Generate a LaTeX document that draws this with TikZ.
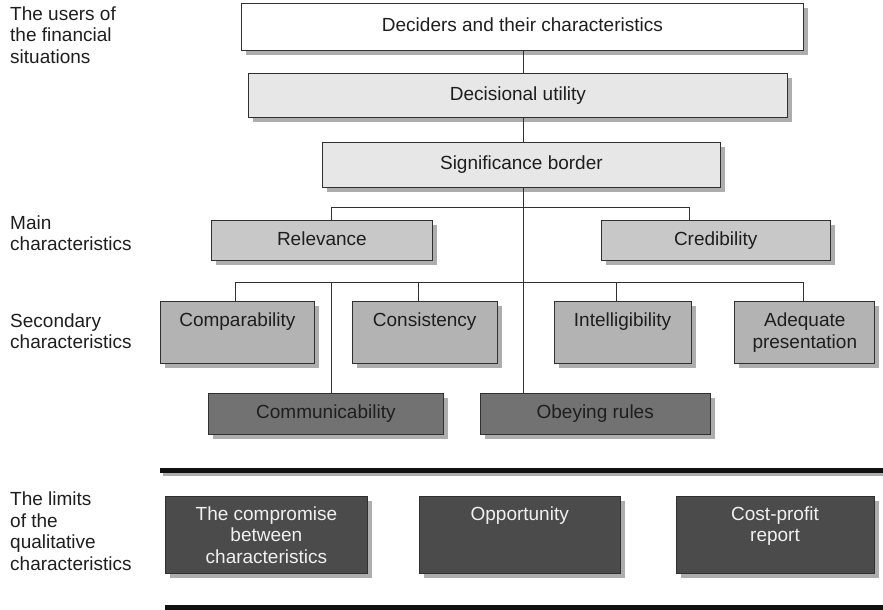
\documentclass[tikz,border=0pt]{standalone}
\usepackage{fontspec}
\setmainfont{Liberation Sans}
\usepackage{xcolor}
\definecolor{frameDark}{HTML}{303030}
\definecolor{inkDark}{HTML}{1E1E1E}
\definecolor{shadowGray}{HTML}{ADADAD}
\definecolor{paleFill}{HTML}{E7E7E7}
\definecolor{mainFill}{HTML}{C8C8C8}
\definecolor{secondFill}{HTML}{B3B3B3}
\definecolor{rulesFill}{HTML}{727272}
\definecolor{limitFill}{HTML}{4B4B4B}
\definecolor{limitText}{HTML}{F0F0F0}
\definecolor{barDark}{HTML}{111111}
\usepackage{tikz}
\usetikzlibrary{positioning,shadows}
\tikzset{%
  levelBox/.style={%
    rectangle,
    draw=frameDark,
    line width=0.8pt,
    text=inkDark,
    inner sep=0pt,
    align=center,
    text depth=4pt,
    font=\fontsize{19}{21.5}\selectfont,
    drop shadow={shadow xshift=4.5pt, shadow yshift=-4.5pt, fill=shadowGray, opacity=1}
  },
  limitBox/.style={%
    levelBox,
    fill=limitFill,
    text=limitText,
    text depth=0pt,
    minimum height=77pt
  },
  sideLabel/.style={%
    anchor=north west,
    inner sep=0pt,
    align=left,
    text=inkDark,
    font=\fontsize{19}{21.5}\selectfont
  },
  treeLine/.style={%
    draw=frameDark,
    line width=0.8pt
  },
  limitBar/.style={%
    draw=barDark,
    line width=5pt
  },
  barShadow/.style={%
    draw=shadowGray,
    line width=5pt
  }
}

\begin{document}
\begin{tikzpicture}[x=1pt, y=-1pt]
  \useasboundingbox (0,0) rectangle (883,610);

  % side labels
  \node[sideLabel] (usersLbl) at (10,6.5) {The users of\\the financial\\situations};
  \node[sideLabel] (mainLbl) at (10,215.5) {Main\\characteristics};
  \node[sideLabel] (secondLbl) at (10,313.5) {Secondary\\characteristics};
  \node[sideLabel] (limitsLbl) at (10,492) {The limits\\of the\\qualitative\\characteristics};

  % top of the tree
  \node[levelBox, fill=white, anchor=north west, minimum width=562pt, minimum height=47pt] (deciders) at (241,3) {Deciders and their characteristics};
  \node[levelBox, fill=paleFill, anchor=north west, minimum width=539pt, minimum height=44pt] (utility) at (248,73) {Decisional utility};
  \node[levelBox, fill=paleFill, anchor=north west, minimum width=398pt, minimum height=45pt] (signif) at (322,142) {Significance border};

  % main characteristics
  \node[levelBox, fill=mainFill, anchor=north west, minimum width=221pt, minimum height=40pt] (relevance) at (211,220) {Relevance};
  \node[levelBox, fill=mainFill, minimum width=229pt, minimum height=40pt, right=168pt of relevance] (credibility) {Credibility};

  % secondary characteristics
  \node[levelBox, fill=secondFill, anchor=north west, minimum width=154pt, minimum height=62pt] (compar) at (160,301) {Comparability\\~};
  \node[levelBox, fill=secondFill, minimum width=145pt, minimum height=62pt, right=37pt of compar] (consist) {Consistency\\~};
  \node[levelBox, fill=secondFill, minimum width=137pt, minimum height=62pt, right=56pt of consist] (intell) {Intelligibility\\~};
  \node[levelBox, fill=secondFill, minimum width=140pt, minimum height=62pt, right=43pt of intell] (adequ) {Adequate\\presentation};

  \node[levelBox, fill=rulesFill, anchor=north west, minimum width=235pt, minimum height=41pt] (commun) at (208,393) {Communicability};
  \node[levelBox, fill=rulesFill, minimum width=230pt, minimum height=41pt, right=36pt of commun] (obey) {Obeying rules};

  % limits
  \node[limitBox, anchor=north west, minimum width=202pt] (compromise) at (165,496) {The compromise\\between\\characteristics};
  \node[limitBox, minimum width=201pt, right=51pt of compromise] (opport) {Opportunity\\~\\~};
  \node[limitBox, minimum width=198pt, right=55pt of opport] (costProfit) {Cost-profit\\report\\~};

  % junctions
  \coordinate (mainJoin) at (523,207);
  \coordinate (relJoin) at (331,207);
  \coordinate (credJoin) at (689,207);
  \coordinate (cmpJoin) at (235,282);
  \coordinate (comJoin) at (331,282);
  \coordinate (conJoin) at (418,282);
  \coordinate (intJoin) at (616,282);
  \coordinate (adqJoin) at (803,282);

  \draw[treeLine] (deciders.south -| mainJoin) -- (utility.north -| mainJoin);
  \draw[treeLine] (utility.south -| mainJoin) -- (signif.north -| mainJoin);
  \draw[treeLine] (signif.south -| mainJoin) -- (obey.north -| mainJoin);
  \draw[treeLine] (relevance.north -| relJoin) -- (relJoin) -- (credJoin) -- (credibility.north -| credJoin);
  \draw[treeLine] (compar.north -| cmpJoin) -- (cmpJoin) -- (adqJoin) -- (adequ.north -| adqJoin);
  \draw[treeLine] (comJoin) -- (commun.north -| comJoin);
  \draw[treeLine] (conJoin) -- (consist.north -| conJoin);
  \draw[treeLine] (intJoin) -- (intell.north -| intJoin);

  % separating bars
  \coordinate (upperBar) at (160,470.5);
  \coordinate (lowerBar) at (165,607.5);
  \draw[barShadow] ([xshift=3pt,yshift=-3pt]upperBar) -- ([yshift=-3pt]upperBar -| 883,0);
  \draw[limitBar] (upperBar) -- (upperBar -| 883,0);
  \draw[limitBar] (lowerBar) -- (lowerBar -| 883,0);
\end{tikzpicture}
\end{document}
